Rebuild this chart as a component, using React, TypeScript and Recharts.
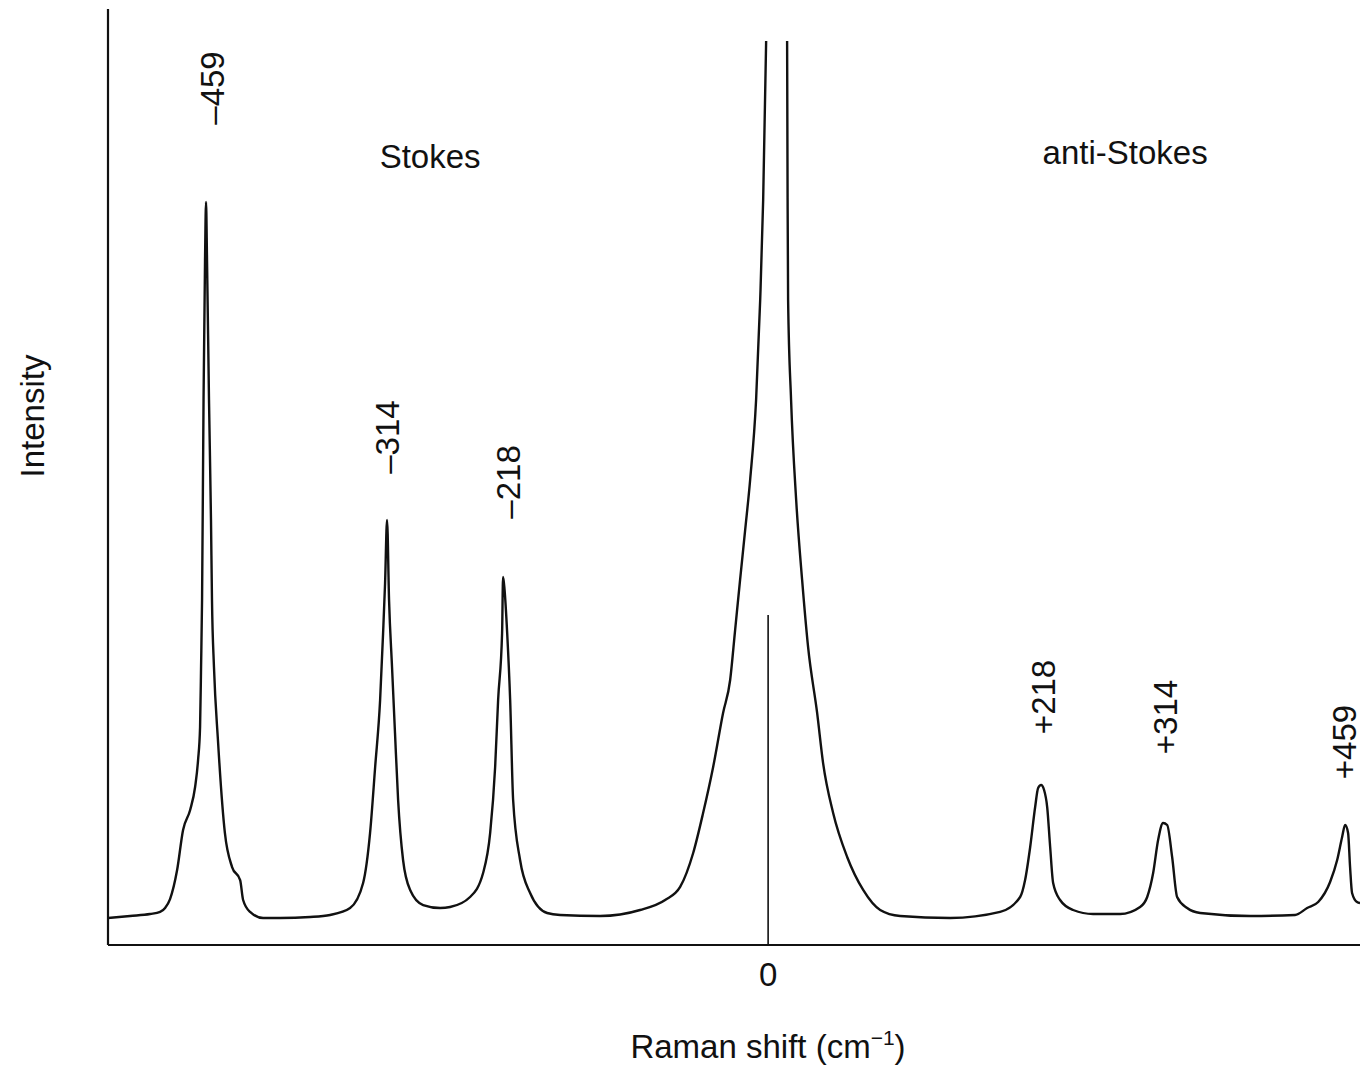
import React from 'react';
import { LineChart, Line, XAxis, YAxis, ReferenceLine, ReferenceDot } from 'recharts';

// Raman spectrum: Stokes / Rayleigh / anti-Stokes.
// Each pair is [Raman shift (cm-1), intensity (arb. units)].

const stokesBand: [number, number][] = [
  [-532, 28.8], [-514.2, 31], [-498.1, 33.1], [-490, 35.3], [-486, 39.5], [-482, 49.1],
  [-476.3, 80.1], [-471.5, 122.9], [-465.8, 144.2], [-461.8, 168.8], [-459.4, 197.7],
  [-457.8, 232.9], [-457, 297], [-456.2, 368.6], [-455, 582.3], [-453.8, 731.9],
  [-453, 793.8], [-452.2, 731.9], [-450.6, 582.3], [-449, 454.1], [-448.2, 368.6],
  [-446.6, 297], [-443.4, 219], [-437.8, 119.7], [-432, 83.3], [-425.5, 69.4],
  [-423.1, 48.1], [-417.5, 35.3], [-407, 28.8], [-393.3, 28.8], [-369.1, 29.9],
  [-353, 32.1], [-336.9, 39.5], [-326.4, 66.2], [-320.8, 119.7], [-316.7, 190.2],
  [-312.7, 261.8], [-310.3, 333.3], [-308.7, 386.8], [-307.1, 454.1], [-305.5, 368.6],
  [-303.1, 297], [-300.7, 226.5], [-298.2, 154.9], [-294.2, 90.8], [-288.5, 58.8],
  [-278, 42.7], [-264.3, 39.5], [-256.3, 40.6], [-240.2, 51.3], [-229.7, 76.9],
  [-224, 119.7], [-220, 190.2], [-217.6, 261.8], [-214.4, 333.3], [-213.6, 393.2],
  [-212.4, 379.3], [-210.3, 333.3], [-207.9, 261.8], [-205.5, 154.9], [-199.9, 90.8],
  [-191.8, 55.6], [-178.1, 34.2], [-167.6, 32.1], [-135.4, 31], [-103.2, 37.4], [-83, 48.1],
];

// Rayleigh line runs off the top of the figure: the trace is broken at the top
const rayleighBand: [number, number | null][] = [
  [-70.9, 62], [-60.4, 98.3], [-52.4, 141], [-44.3, 190.2], [-36.3, 247.9], [-30.6, 283.1],
  [-26.6, 336.5], [-22.6, 390], [-18.5, 443.4], [-14.5, 496.8], [-9.7, 582.3], [-6.4, 689.1],
  [-4, 796], [-1.6, 965.8], [6, null], [15.3, 965.8], [15.7, 796], [16.1, 689.1],
  [18.5, 582.3], [22.6, 475.4], [27.4, 390], [32.2, 318.4], [39.5, 247.9], [44.3, 194.4],
  [52.4, 141], [63.7, 94], [76.6, 58.8], [90.3, 37.4], [106.4, 31],
];

const antiStokesBand: [number, number][] = [
  [146.7, 28.8], [187, 35.3], [203.1, 51.3], [207.1, 69.4], [211.2, 104.7], [215.2, 147.4],
  [217.6, 167.7], [220, 170.9], [222.4, 165.6], [224.9, 147.4], [227.3, 104.7], [229.7, 66.2],
  [235.3, 48.1], [245.8, 37.4], [261.9, 33.1], [283.7, 33.1], [299.8, 40.6], [305.5, 51.3],
  [310.3, 76.9], [314.3, 112.2], [318.3, 130.3], [321.6, 128.2], [325.6, 94], [329.6, 51.3],
  [337.7, 39.5], [348.2, 34.2], [388.5, 31], [424.7, 32.1], [434.4, 39.5], [443.3, 45.9],
  [452.9, 67.3], [458.6, 90.8], [462.6, 115.4], [465, 128.2], [467.4, 119.7], [469, 83.3],
  [470.6, 55.6], [474.6, 45.9], [477, 44.9],
];

// peak annotations (rotated text), anchored at [shift, intensity] of text centre
const peakLabels = ['\u2013459', '\u2013314', '\u2013218', '+218', '+314', '+459'];
const peakLabelShift = [-448.1, -306.7, -209.5, 221.6, 320, 464.8];
const peakLabelHeight = [915.6, 542.7, 494.7, 265, 243.6, 216.9];

const regionLabels = ['Stokes', 'anti-Stokes'];
const regionLabelShift = [-272.4, 287.7];
const regionLabelHeight = [841.9, 846.2];

const xTicks = [0];
const xDomain: [number, number] = [-532, 477];
const yDomain: [number, number] = [0, 1000];
const laserMarkerTop = 352.6;

const FONT = '"Liberation Sans", Arial, Helvetica, sans-serif';
const INK = '#111';

const data = [...stokesBand, ...rayleighBand, ...antiStokesBand].map(([shift, intensity]) => ({
  shift,
  intensity,
}));

const RotatedText = (text: string) => (props: any) => {
  const { cx, cy } = props;
  return (
    <text
      x={cx}
      y={cy}
      transform={`rotate(-90 ${cx} ${cy})`}
      textAnchor="middle"
      dominantBaseline="central"
      fontFamily={FONT}
      fontSize={33}
      fill={INK}
    >
      {text}
    </text>
  );
};

const PlainText = (text: string) => (props: any) => {
  const { cx, cy } = props;
  return (
    <text x={cx} y={cy} textAnchor="middle" dominantBaseline="central" fontFamily={FONT} fontSize={33} fill={INK}>
      {text}
    </text>
  );
};

const XTitle = (props: any) => {
  const { viewBox } = props;
  const x = viewBox.x + 660;
  const y = viewBox.y + 113;
  return (
    <text x={x} y={y} textAnchor="middle" fontFamily={FONT} fontSize={33} fill={INK}>
      Raman shift (cm
      <tspan dy={-13} fontSize={21}>{'\u22121'}</tspan>
      <tspan dy={13}>)</tspan>
    </text>
  );
};

const YTitle = (props: any) => {
  const { viewBox } = props;
  const x = viewBox.x + 32;
  const y = viewBox.y + 407;
  return (
    <text
      x={x}
      y={y}
      transform={`rotate(-90 ${x} ${y})`}
      textAnchor="middle"
      dominantBaseline="central"
      fontFamily={FONT}
      fontSize={33}
      fill={INK}
    >
      Intensity
    </text>
  );
};

export default function App() {
  return (
    <div style={{ position: 'absolute', left: 0, top: 0, width: 1360, height: 1067, background: '#fff' }}>
      <LineChart width={1360} height={1067} data={data} margin={{ top: 9, right: 0, bottom: 0, left: 0 }}>
        <XAxis
          dataKey="shift"
          type="number"
          domain={xDomain}
          ticks={xTicks}
          allowDataOverflow
          height={122}
          axisLine={{ stroke: INK, strokeWidth: 2.2 }}
          tickLine={false}
          tickMargin={12}
          tick={{ fill: INK, fontSize: 33, fontFamily: FONT }}
          label={<XTitle />}
        />
        <YAxis
          type="number"
          domain={yDomain}
          allowDataOverflow
          width={108}
          axisLine={{ stroke: INK, strokeWidth: 2.2 }}
          tickLine={false}
          tick={false}
          label={<YTitle />}
        />

        {/* laser line marker at zero shift */}
        <ReferenceLine
          segment={[{ x: 0, y: 0 }, { x: 0, y: laserMarkerTop }]}
          stroke={INK}
          strokeWidth={1.6}
        />

        <Line
          type="monotoneX"
          dataKey="intensity"
          stroke={INK}
          strokeWidth={2.4}
          dot={false}
          connectNulls={false}
          isAnimationActive={false}
        />

        {peakLabels.map((label, i) => (
          <ReferenceDot
            key={label}
            x={peakLabelShift[i]}
            y={peakLabelHeight[i]}
            r={0}
            shape={RotatedText(label)}
          />
        ))}
        {regionLabels.map((label, i) => (
          <ReferenceDot
            key={label}
            x={regionLabelShift[i]}
            y={regionLabelHeight[i]}
            r={0}
            shape={PlainText(label)}
          />
        ))}
      </LineChart>
    </div>
  );
}
